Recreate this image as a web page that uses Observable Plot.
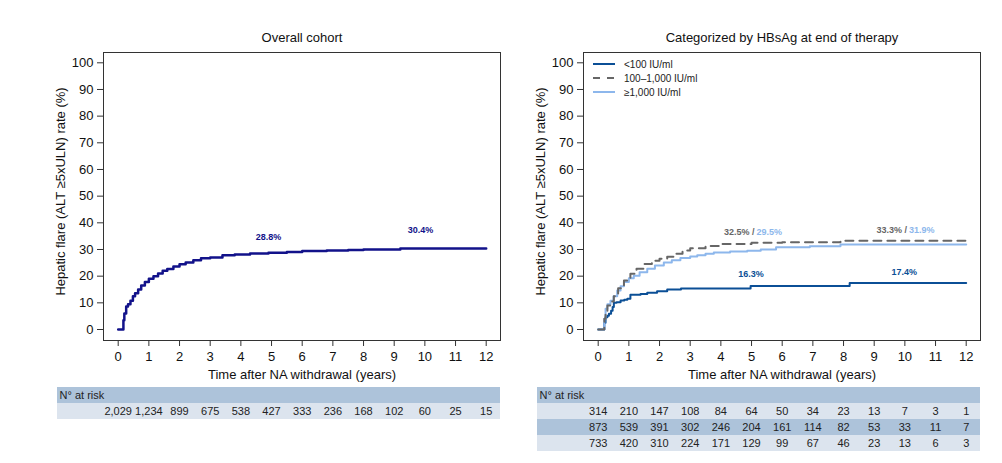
<!DOCTYPE html>
<html>
<head>
<meta charset="utf-8">
<script src="https://cdn.jsdelivr.net/npm/d3@7"></script>
<script src="https://cdn.jsdelivr.net/npm/@observablehq/plot@0.6"></script>
<style>
  html, body { margin: 0; padding: 0; background: #fff; }
  #root { position: relative; width: 1002px; height: 463px; overflow: hidden; font-family: "Liberation Sans", Arial, sans-serif; }
  .abs { position: absolute; width: 520px; }
  #legend { position: absolute; left: 593px; top: 57px; font-size: 10px; color: #222; }
  #legend .row { display: flex; align-items: center; height: 14px; }
  #legend svg { margin-right: 9px; }
</style>
</head>
<body>
<div id="root">
  <div id="lc" class="abs" style="left:0;top:0"></div>
  <div id="rc" class="abs" style="left:480px;top:0"></div>
  <div id="lt" class="abs" style="left:0;top:380px"></div>
  <div id="rt" class="abs" style="left:480px;top:380px"></div>
  <div id="legend"></div>
</div>
<script>
const FONT = '"Liberation Sans", Arial, sans-serif';

// ---- data ----
const yearTicks = [0,1,2,3,4,5,6,7,8,9,10,11,12];
const pctTicks = [0,10,20,30,40,50,60,70,80,90,100];

const overallTime  = [0, 0.13, 0.17, 0.2, 0.26, 0.32, 0.4, 0.48, 0.55, 0.65, 0.75, 0.87, 1.0, 1.15, 1.3, 1.45, 1.6, 1.8, 2.0, 2.2, 2.45, 2.7, 3.0, 3.4, 3.8, 4.3, 4.9, 5.5, 6.0, 6.8, 7.5, 8.0, 9.2, 12];
const overallValue = [0, 0, 3.5, 6, 8.6, 9.5, 10.8, 12.5, 13.6, 15, 16.5, 17.8, 19, 20, 21, 22, 22.7, 23.6, 24.5, 25.1, 26.0, 26.7, 27.0, 27.8, 28.1, 28.5, 28.8, 29.1, 29.4, 29.6, 29.8, 30.0, 30.4, 30.4];

const lowTime  = [0, 0.16, 0.2, 0.24, 0.3, 0.35, 0.42, 0.47, 0.51, 0.6, 0.73, 0.85, 0.95, 1.05, 1.38, 1.6, 1.92, 2.25, 2.7, 4.97, 8.2, 12];
const lowValue = [0, 0, 2.5, 4.6, 5.2, 5.9, 7, 8.4, 10.0, 10.2, 10.9, 11.2, 11.5, 13.0, 13.3, 13.8, 14.3, 15.0, 15.4, 16.3, 17.4, 17.4];

const midTime  = [0, 0.16, 0.2, 0.24, 0.3, 0.4, 0.51, 0.65, 0.84, 1.05, 1.25, 1.5, 1.75, 2.0, 2.25, 2.5, 2.75, 3.0, 3.5, 4.0, 5.0, 6.0, 7.9, 12];
const midValue = [0, 0, 4, 7, 9, 10.5, 12.5, 15.5, 18.4, 20.9, 22.8, 24.6, 25.8, 26.5, 27.3, 28.4, 29.6, 30.5, 31.3, 32.1, 32.5, 32.7, 33.3, 33.3];

const highTime  = [0, 0.16, 0.2, 0.24, 0.3, 0.4, 0.5, 0.62, 0.73, 0.84, 1.0, 1.16, 1.35, 1.6, 1.85, 2.14, 2.4, 2.68, 3.0, 3.23, 3.5, 3.77, 4.3, 4.86, 5.3, 5.8, 6.9, 7.9, 12];
const highValue = [0, 0, 4, 7.8, 9.5, 10.8, 12.5, 14.6, 16.2, 17.8, 19.2, 20.2, 21.5, 22.8, 24, 25.1, 26, 26.8, 27.4, 27.8, 28.4, 28.9, 29.2, 29.5, 30.0, 30.8, 31.2, 31.9, 31.9];

const seriesNames = ["<100 IU/ml", "100\u20131,000 IU/ml", "\u22651,000 IU/ml"];

const overallRisk = [2029,1234,899,675,538,427,333,236,168,102,60,25,15];
const lowRisk  = [314,210,147,108,84,64,50,34,23,13,7,3,1];
const midRisk  = [873,539,391,302,246,204,161,114,82,53,33,11,7];
const highRisk = [733,420,310,224,171,129,99,67,46,23,13,6,3];

// annotation labels: [year, percent, text]
const leftLabels = [[4.9, 34.5, "28.8%"], [9.86, 37.1, "30.4%"]];
const lowLabels = [[4.98, 20.9, "16.3%"], [9.98, 21.5, "17.4%"]];
const midLabels = [[5.095, 36.5, "32.5% /"], [10.07, 37.1, "33.3% /"]];
const highLabels = [[5.095, 36.5, "29.5%"], [10.07, 37.1, "31.9%"]];

const C_NAVY = "#12128a", C_LOW = "#0b4f96", C_MID = "#666666", C_HIGH = "#8db7ec";
const C_HEAD = "#adc3da", C_LIGHT = "#dce4ee";

const yTitle = "Hepatic flare (ALT \u22655xULN) rate (%)";
const xTitle = "Time after NA withdrawal (years)";

const toRows = (t, v) => t.map((d, i) => ({t: d, v: v[i]}));
const toLab = arr => arr.map(([x, y, text]) => ({x, y, text}));

function chart(title, lineMarks) {
  return Plot.plot({
    width: 520, height: 385,
    marginLeft: 103, marginRight: 20, marginTop: 52, marginBottom: 45,
    style: {fontFamily: FONT, fontSize: "13px", background: "transparent", color: "#111", overflow: "visible"},
    x: {domain: [0, 12], insetLeft: 14.7, insetRight: 14.3},
    y: {domain: [0, 100], insetTop: 10.3, insetBottom: 11},
    marks: [
      Plot.frame({stroke: "#333", strokeWidth: 1}),
      Plot.axisX({ticks: yearTicks, tickSize: 6, tickPadding: 5, label: null, fontSize: 13, stroke: "#333"}),
      Plot.axisY({ticks: pctTicks, tickSize: 6, tickPadding: 4, label: null, fontSize: 13, stroke: "#333"}),
      ...lineMarks,
      Plot.text([xTitle], {frameAnchor: "bottom", dy: 34, lineAnchor: "middle", textAnchor: "middle", fontSize: 13, fill: "#111"}),
      Plot.text([yTitle], {frameAnchor: "left", dx: -43, dy: -5, rotate: -90, lineAnchor: "middle", textAnchor: "middle", fontSize: 13, fill: "#111"}),
      Plot.text([title], {frameAnchor: "top", dy: -15, lineAnchor: "middle", textAnchor: "middle", fontSize: 13, fill: "#111"})
    ]
  });
}

const lab = (data, fill, anchor, dx = 0) =>
  Plot.text(toLab(data), {x: "x", y: "y", text: "text", fill, fontWeight: "bold", fontSize: 9, textAnchor: anchor, dx});

document.getElementById("lc").append(chart("Overall cohort", [
  Plot.line(toRows(overallTime, overallValue), {x: "t", y: "v", curve: "step-after", stroke: C_NAVY, strokeWidth: 2.5}),
  lab(leftLabels, C_NAVY, "middle")
]));

document.getElementById("rc").append(chart("Categorized by HBsAg at end of therapy", [
  Plot.line(toRows(lowTime, lowValue), {x: "t", y: "v", curve: "step-after", stroke: C_LOW, strokeWidth: 2}),
  Plot.line(toRows(highTime, highValue), {x: "t", y: "v", curve: "step-after", stroke: C_HIGH, strokeWidth: 2}),
  Plot.line(toRows(midTime, midValue), {x: "t", y: "v", curve: "step-after", stroke: C_MID, strokeWidth: 2, strokeDasharray: "8,6"}),
  lab(lowLabels, C_LOW, "middle"),
  lab(midLabels, C_MID, "end"),
  lab(highLabels, C_HIGH, "start", 2)
]));

// ---- number at risk tables ----
const fmt = d3.format(",");
function table(rows) {
  const keys = ["header", ...rows.map(r => r.key)];
  const fills = [C_HEAD, ...rows.map(r => r.fill)];
  const cells = keys.map((k, i) => ({k, f: fills[i]}));
  const texts = rows.flatMap(r => r.values.map((v, i) => ({t: yearTicks[i], k: r.key, n: fmt(v)})));
  return Plot.plot({
    width: 520, height: 83,
    marginLeft: 57, marginRight: 20, marginTop: 0, marginBottom: 0,
    style: {fontFamily: FONT, fontSize: "11px", background: "transparent", color: "#222"},
    x: {domain: [0, 12], insetLeft: 60.7, insetRight: 14.3, axis: null},
    y: {type: "band", domain: keys, range: [6, 6 + 16.67 * keys.length], padding: 0, axis: null},
    marks: [
      Plot.cell(cells, {y: "k", fill: "f"}),
      Plot.text(["N\u00b0 at risk"], {y: () => "header", frameAnchor: "left", dx: 2, textAnchor: "start", fontSize: 11, fill: "#222"}),
      Plot.text(texts, {x: "t", y: "k", text: "n", fontSize: 11, fill: "#222"})
    ]
  });
}

document.getElementById("lt").append(table([{key: "all", fill: C_LIGHT, values: overallRisk}]));
document.getElementById("rt").append(table([
  {key: "low", fill: C_LIGHT, values: lowRisk},
  {key: "mid", fill: C_HEAD, values: midRisk},
  {key: "high", fill: C_LIGHT, values: highRisk}
]));

// ---- legend ----
const legendStyles = [
  {stroke: C_LOW, dash: null},
  {stroke: C_MID, dash: "7,7"},
  {stroke: C_HIGH, dash: null}
];
const legend = document.getElementById("legend");
seriesNames.forEach((name, i) => {
  const row = document.createElement("div");
  row.className = "row";
  const s = legendStyles[i];
  row.innerHTML = `<svg width="22" height="6"><line x1="0" x2="22" y1="3" y2="3" stroke="${s.stroke}" stroke-width="2" ${s.dash ? `stroke-dasharray="${s.dash}"` : ""}/></svg><span>${name}</span>`;
  legend.append(row);
});
</script>
</body>
</html>
